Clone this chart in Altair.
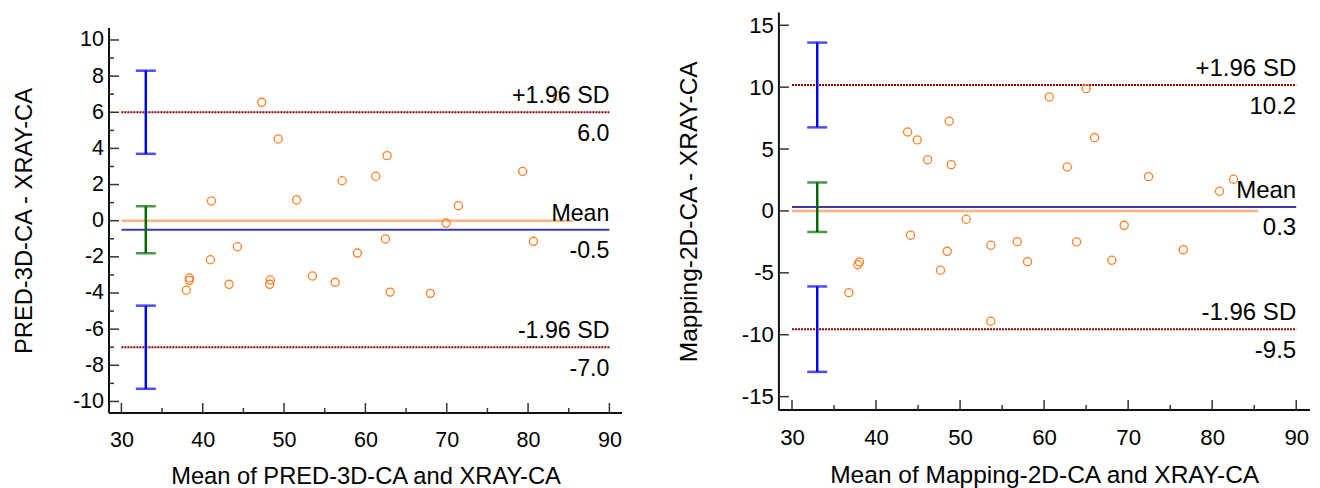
import altair as alt
import pandas as pd

FONT = "Liberation Sans"

# ---------------- Left panel: PRED-3D-CA vs XRAY-CA ----------------
left_x = [47.25, 49.27, 62.67, 61.27, 57.14, 51.55, 41.07, 62.46, 44.26, 59.02,
          40.94, 38.36, 38.36, 53.48, 48.32, 48.23, 43.24, 56.28, 37.99, 63.04,
          79.34, 71.44, 69.92, 80.66, 67.99, 83.57]
left_y = [6.55, 4.52, 3.60, 2.46, 2.21, 1.15, 1.09, -1.01, -1.44, -1.79,
          -2.16, -3.17, -3.30, -3.06, -3.28, -3.52, -3.52, -3.41, -3.85, -3.95,
          2.73, 0.83, -0.13, -1.14, -4.02, 6.90]
left_lines = [6.0, -0.5, -7.0]            # +1.96 SD, mean, -1.96 SD
left_line_text = ["6.0", "-0.5", "-7.0"]
left_ci_lo = [3.7, -1.8, -9.3]
left_ci_hi = [8.3, 0.8, -4.7]

# ---------------- Right panel: Mapping-2D-CA vs XRAY-CA ----------------
right_x = [60.61, 48.71, 43.75, 44.90, 46.13, 48.95, 50.73, 44.10, 56.80, 53.66,
           48.47, 58.03, 38.03, 37.83, 47.67, 36.76, 53.66, 65.01, 66.00, 62.75,
           72.43, 82.54, 80.87, 69.53, 63.86, 76.56, 68.06]
right_y = [9.21, 7.25, 6.38, 5.74, 4.14, 3.74, -0.67, -1.96, -2.48, -2.77,
           -3.26, -4.10, -4.12, -4.34, -4.79, -6.60, -8.91, 9.88, 5.92, 3.55,
           2.77, 2.56, 1.59, -1.16, -2.50, -3.13, -3.98]
right_lines = [10.17, 0.32, -9.55]
right_line_text = ["10.2", "0.3", "-9.5"]
right_ci_lo = [6.75, -1.7, -13.0]
right_ci_hi = [13.6, 2.3, -6.1]

line_names = ["+1.96 SD", "Mean", "-1.96 SD"]
ci_colors = ["#0000FF", "#006A00", "#0000FF"]
x_major = [30, 40, 50, 60, 70, 80, 90]
x_minor = [35, 45, 55, 65, 75, 85]


def panel(xs, ys, lines, line_text, ci_lo, ci_hi, xtitle, ytitle,
          xdom, ydom, yaxis_span, y_major, y_minor, W, H,
          fs_tick, fs_title, fs_ann, title_x, title_y, xlab_pad, xtitle_y):
    xscale = alt.Scale(domain=xdom, nice=False, zero=False)
    yscale = alt.Scale(domain=ydom, nice=False, zero=False)
    xaxis = alt.Axis(values=x_major, title=xtitle, domain=False, ticks=False,
                     tickSize=0, grid=False, labelFontSize=fs_tick,
                     labelPadding=xlab_pad, labelBaseline="alphabetic",
                     labelColor="black", labelFlush=False,
                     labelExpr="'' + datum.value",
                     titleFontSize=fs_title, titleFontWeight="normal",
                     titleColor="black", titleBaseline="alphabetic",
                     titleY=xtitle_y)
    yaxis = alt.Axis(values=y_major, title=ytitle, domain=False, ticks=False,
                     tickSize=0, grid=False, labelFontSize=fs_tick,
                     labelPadding=5.5, labelBaseline="middle", labelAlign="right",
                     labelColor="black", labelFlush=False,
                     labelExpr="'' + datum.value",
                     titleFontSize=fs_title, titleFontWeight="normal",
                     titleColor="black", titleAngle=270,
                     titleBaseline="alphabetic", titleX=title_x, titleY=title_y)

    def X(f):
        return alt.X(f + ":Q", scale=xscale, axis=xaxis)

    def Y(f):
        return alt.Y(f + ":Q", scale=yscale, axis=yaxis)

    pts = pd.DataFrame({"x": xs, "y": ys})
    base_lines = pd.DataFrame({"x": [30.0] * 3, "x2": [90.0] * 3, "y": lines,
                               "name": line_names, "val": line_text,
                               "lo": ci_lo, "hi": ci_hi, "cx": [33.0] * 3,
                               "col": ci_colors})
    zero_df = pd.DataFrame({"x": [30.0], "x2": [85.5], "y": [0.0]})
    yaxis_df = pd.DataFrame({"x": [xdom[0]], "y": [yaxis_span[0]], "y2": [yaxis_span[1]]})
    xmaj_df = pd.DataFrame({"x": x_major, "y": [ydom[0]] * len(x_major)})
    xmin_df = pd.DataFrame({"x": x_minor, "y": [ydom[0]] * len(x_minor)})

    layers = []
    # zero (equality) line
    layers.append(alt.Chart(zero_df).mark_rule(color="#FFA060", strokeWidth=2.5, opacity=0.8)
                  .encode(x=X("x"), x2="x2", y=Y("y")))
    # mean line
    mean_df = base_lines.iloc[[1]]
    layers.append(alt.Chart(mean_df).mark_rule(color="#3C3CA8", strokeWidth=2)
                  .encode(x=X("x"), x2="x2", y=Y("y")))
    # limits of agreement
    loa_df = base_lines.iloc[[0, 2]]
    layers.append(alt.Chart(loa_df).mark_rule(color="#8B0000", strokeWidth=2, strokeDash=[2, 1])
                  .encode(x=X("x"), x2="x2", y=Y("y")))
    # CI error bars
    for i in range(3):
        d = base_lines.iloc[[i]]
        c = ci_colors[i]
        layers.append(alt.Chart(d).mark_rule(color=c, strokeWidth=2.5)
                      .encode(x=X("cx"), y=Y("lo"), y2="hi"))
        layers.append(alt.Chart(d).mark_tick(color=c, orient="horizontal", size=20, thickness=2.5)
                      .encode(x=X("cx"), y=Y("lo")))
        layers.append(alt.Chart(d).mark_tick(color=c, orient="horizontal", size=20, thickness=2.5)
                      .encode(x=X("cx"), y=Y("hi")))
    # points
    layers.append(alt.Chart(pts).mark_point(shape="circle", filled=False, size=66,
                                            strokeWidth=1.3, color="#FF7F27", opacity=1)
                  .encode(x=X("x"), y=Y("y")))
    # labels
    layers.append(alt.Chart(base_lines).mark_text(align="right", baseline="alphabetic", dy=-9,
                                                  fontSize=fs_ann, color="black", font=FONT)
                  .encode(x=X("x2"), y=Y("y"), text="name:N"))
    layers.append(alt.Chart(base_lines).mark_text(align="right", baseline="alphabetic", dy=28.5,
                                                  fontSize=fs_ann, color="black", font=FONT)
                  .encode(x=X("x2"), y=Y("y"), text="val:N"))
    # axis lines and ticks (inward ticks)
    layers.append(alt.Chart(yaxis_df).mark_rule(color="#111111", strokeWidth=2)
                  .encode(x=X("x"), y=Y("y"), y2="y2"))
    layers.append(alt.Chart(xmaj_df).mark_rule(color="#111111", strokeWidth=2)
                  .encode(x=alt.value(0), x2=alt.value(W), y=alt.value(H)))
    layers.append(alt.Chart(xmaj_df).mark_rule(color="#333333", strokeWidth=1.5)
                  .encode(x=X("x"), y=alt.value(H - 10), y2=alt.value(H)))
    layers.append(alt.Chart(xmin_df).mark_rule(color="#333333", strokeWidth=1.5)
                  .encode(x=X("x"), y=alt.value(H - 5), y2=alt.value(H)))
    ymaj_df = pd.DataFrame({"y": y_major})
    layers.append(alt.Chart(ymaj_df).mark_rule(color="#333333", strokeWidth=1.5)
                  .encode(y=Y("y"), x=alt.value(0), x2=alt.value(10)))
    if y_minor:
        ymin_df = pd.DataFrame({"y": y_minor})
        layers.append(alt.Chart(ymin_df).mark_rule(color="#333333", strokeWidth=1.5)
                      .encode(y=Y("y"), x=alt.value(0), x2=alt.value(5)))
    return alt.layer(*layers).properties(width=W, height=H)


left = panel(left_x, left_y, left_lines, left_line_text, left_ci_lo, left_ci_hi,
             "Mean of PRED-3D-CA and XRAY-CA", "PRED-3D-CA - XRAY-CA",
             [28.475, 91.55], [-10.64, 11.52], [-10.64, 10.66],
             [-10, -8, -6, -4, -2, 0, 2, 4, 6, 8, 10],
             [-9, -7, -5, -3, -1, 1, 3, 5, 7, 9],
             513, 400.5, 21.5, 23.7, 23.2, -78, 208, 33, 70)

right = panel(right_x, right_y, right_lines, right_line_text, right_ci_lo, right_ci_hi,
              "Mean of Mapping-2D-CA and XRAY-CA", "Mapping-2D-CA - XRAY-CA",
              [28.44, 91.58], [-16.08, 16.03], [-16.08, 16.03],
              [-15, -10, -5, 0, 5, 10, 15], [],
              530.6, 397.5, 22.2, 24.5, 24.0, -82.6, 198.75, 34, 72)

chart = alt.hconcat(left, right, spacing=156.9, bounds="flush").properties(
    padding={"left": 4, "top": 3.5, "right": 0, "bottom": 0}
).configure(font=FONT).configure_view(stroke=None)

chart.save("out.html", embed_options={"renderer": "svg", "actions": False})
